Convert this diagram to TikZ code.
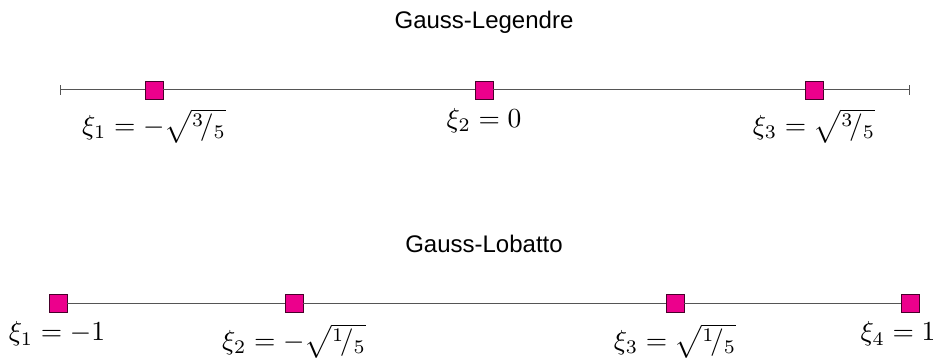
\documentclass[tikz,border=0pt]{standalone}
\usepackage{fontspec}
\setsansfont{Liberation Sans}
\usepackage{amsmath}
\definecolor{pt}{HTML}{EC008C}
\definecolor{ln}{HTML}{555555}
\begin{document}
\begin{tikzpicture}[x=1pt,y=-1pt,
  pnt/.style={draw=black!70!pt, fill=pt, minimum size=18pt, inner sep=0pt, line width=0.6pt},
  axis/.style={draw=ln, line width=1pt},
  ttl/.style={font=\sffamily\fontsize{24}{28}\selectfont},
  lbl/.style={scale=2.75, inner sep=0pt}]
\useasboundingbox (0,0) rectangle (947,363);
% Gauss-Legendre
\node[ttl] (t1) at (484,22) {Gauss-Legendre};
\coordinate (l0) at (60,90);
\coordinate (l1) at (909,90);
\node[pnt] (a1) at (154,90) {};
\node[pnt] (a2) at (484,90) {};
\node[pnt] (a3) at (814,90) {};
\draw[axis] (l0) -- (a1) -- (a2) -- (a3) -- (l1);
\draw[axis] ([yshift=-5pt]l0) -- ([yshift=5pt]l0);
\draw[axis] ([yshift=-5pt]l1) -- ([yshift=5pt]l1);
\node[lbl] (la1) at (154,126) {$\xi_1 = -\sqrt{{}^{3}\!/_{5}}$};
\node[lbl] (la2) at (484,121) {$\xi_2 = 0$};
\node[lbl] (la3) at (814,126) {$\xi_3 = \sqrt{{}^{3}\!/_{5}}$};
% Gauss-Lobatto
\node[ttl] (t2) at (484,244) {Gauss-Lobatto};
\node[pnt] (b1) at (58,303) {};
\node[pnt] (b2) at (294,303) {};
\node[pnt] (b3) at (675,303) {};
\node[pnt] (b4) at (910,303) {};
\draw[axis] (b1) -- (b2) -- (b3) -- (b4);
\node[lbl] (lb1) at (57,334) {$\xi_1 = -1$};
\node[lbl] (lb2) at (294,341) {$\xi_2 = -\sqrt{{}^{1}\!/_{5}}$};
\node[lbl] (lb3) at (675,341) {$\xi_3 = \sqrt{{}^{1}\!/_{5}}$};
\node[lbl] (lb4) at (898,334) {$\xi_4 = 1$};
\end{tikzpicture}
\end{document}
